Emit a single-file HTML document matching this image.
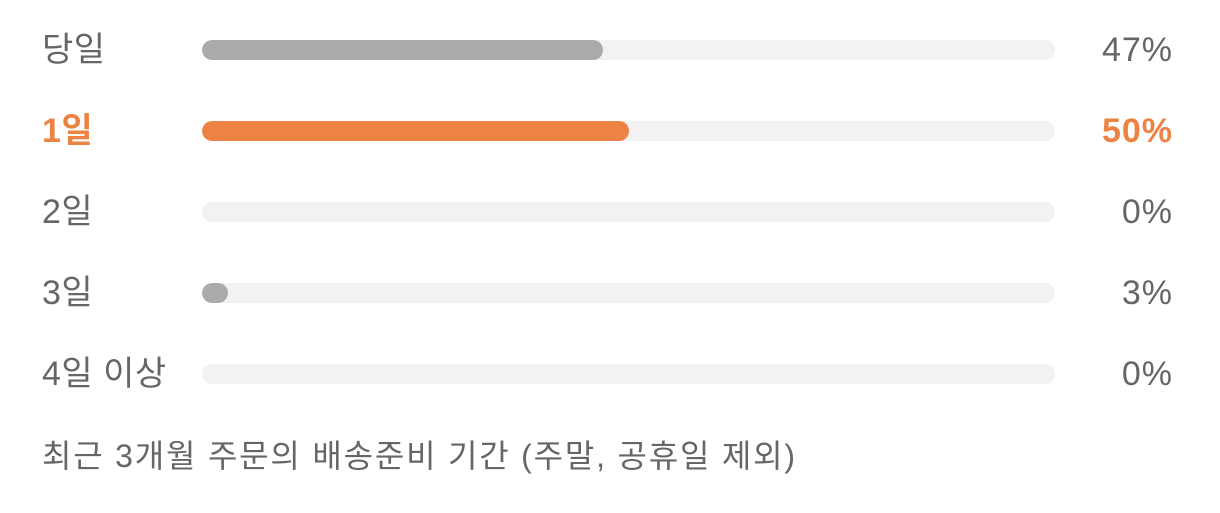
<!DOCTYPE html>
<html><head><meta charset="utf-8">
<style>
body{margin:0;width:1220px;height:513px;background:#fff;overflow:hidden;font-family:"Liberation Sans","Noto Sans CJK KR",sans-serif;}
.row{position:absolute;left:0;width:1220px;height:40px;}
.lbl{position:absolute;left:42px;top:0;font-size:34px;line-height:40px;color:#666;white-space:nowrap;letter-spacing:0.5px;}
.track{position:absolute;left:202px;top:10px;width:853px;height:20px;border-radius:10px;background:#f2f2f2;overflow:hidden;}
.fill{position:absolute;left:0;top:0;height:20px;border-radius:10px;background:#aaa;}
.val{position:absolute;right:47px;top:0;font-size:34px;line-height:40px;color:#666;letter-spacing:1px;}
.hl .lbl,.hl .val{color:#ed8245;font-weight:bold;}
.hl .fill{background:#ed8245;}
#note{position:absolute;left:42px;top:436px;font-size:32px;line-height:40px;color:#666;white-space:nowrap;letter-spacing:1.8px;}
</style></head><body>
<div id="chart"></div>
<div id="note">최근 3개월 주문의 배송준비 기간 (주말, 공휴일 제외)</div>
<script>
const categories=["당일","1일","2일","3일","4일 이상"];
const values=[47,50,0,3,0];
const highlight=[false,true,false,false,false];
const chart=document.getElementById('chart');
const trackW=853;
function xScale(v){return v/100*trackW;}
categories.forEach((c,i)=>{
  const row=document.createElement('div');
  
  
  row.className='row'+(highlight[i]?' hl':'');
  row.style.top=(30+i*81)+'px';
  const l=document.createElement('div');
  
  
  l.className='lbl';l.textContent=c;
  const t=document.createElement('div');
  
  
  t.className='track';
  const f=document.createElement('div');
  
  
  f.className='fill';
  let w=xScale(values[i]);
  if(values[i]>0&&w<25)w=25;
  f.style.width=w+'px';
  if(values[i]===0)f.style.display='none';
  t.appendChild(f);
  const v=document.createElement('div');
  
  
  v.className='val';v.textContent=values[i]+'%';
  row.appendChild(l);row.appendChild(t);row.appendChild(v);
  chart.appendChild(row);
});
</script>
</body></html>
